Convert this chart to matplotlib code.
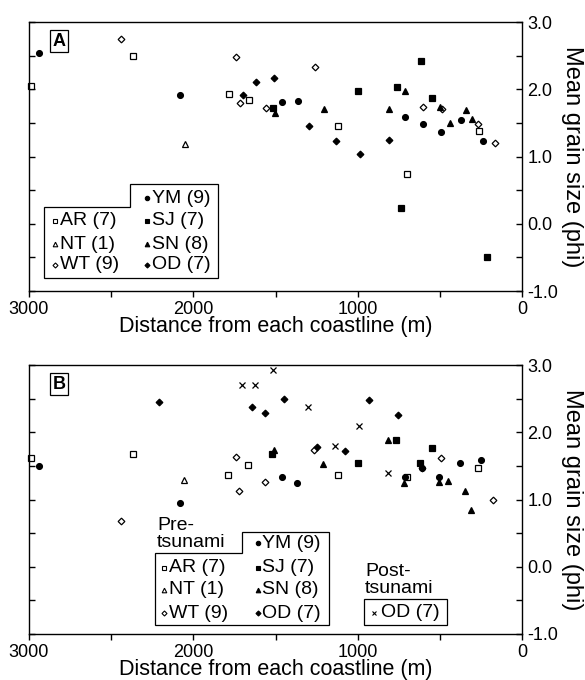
import matplotlib
matplotlib.use("Agg")
import matplotlib.pyplot as plt
from matplotlib.patches import Polygon, Rectangle

plt.rcParams['font.family'] = ['Liberation Sans', 'DejaVu Sans']

# ---------------- Panel A data ----------------
a_ym_x = [2938, 2082, 1461, 1365, 710, 604, 495, 369, 239]
a_ym_y = [2.54, 1.92, 1.81, 1.83, 1.58, 1.49, 1.36, 1.54, 1.23]
a_sj_x = [1516, 1000, 759, 738, 613, 546, 211]
a_sj_y = [1.72, 1.97, 2.04, 0.24, 2.42, 1.87, -0.49]
a_sn_x = [1505, 1203, 811, 710, 497, 440, 339, 304]
a_sn_y = [1.65, 1.70, 1.70, 1.98, 1.74, 1.50, 1.69, 1.56]
a_od_x = [1700, 1621, 1509, 1298, 1132, 984, 811]
a_od_y = [1.92, 2.11, 2.16, 1.45, 1.23, 1.04, 1.24]
a_ar_x = [2990, 2368, 1785, 1663, 1118, 698, 260]
a_ar_y = [2.05, 2.49, 1.93, 1.84, 1.45, 0.74, 1.38]
a_nt_x = [2053]
a_nt_y = [1.19]
a_wt_x = [2443, 1739, 1718, 1556, 1260, 603, 485, 268, 164]
a_wt_y = [2.74, 2.48, 1.79, 1.72, 2.33, 1.74, 1.71, 1.48, 1.20]

# ---------------- Panel B data ----------------
b_ym_x = [2938, 2082, 1463, 1370, 712, 609, 503, 377, 248]
b_ym_y = [1.50, 0.95, 1.34, 1.24, 1.33, 1.47, 1.34, 1.55, 1.58]
b_sj_x = [1520, 1000, 765, 619, 549]
b_sj_y = [1.68, 1.54, 1.88, 1.54, 1.76]
b_sn_x = [1508, 1209, 817, 716, 503, 452, 345, 312]
b_sn_y = [1.74, 1.53, 1.88, 1.25, 1.26, 1.28, 1.13, 0.84]
b_od_x = [2211, 1641, 1562, 1450, 1246, 1075, 929, 757]
b_od_y = [2.45, 2.38, 2.28, 2.49, 1.78, 1.72, 2.48, 2.25]
b_ar_x = [2990, 2368, 1788, 1666, 1122, 702, 268]
b_ar_y = [1.62, 1.67, 1.37, 1.52, 1.36, 1.34, 1.47]
b_nt_x = [2055]
b_nt_y = [1.29]
b_wt_x = [2443, 1741, 1721, 1561, 1264, 609, 491, 175]
b_wt_y = [0.68, 1.63, 1.13, 1.26, 1.74, 1.47, 1.61, 1.00]
b_post_x = [1702, 1625, 1514, 1305, 1138, 990, 817]
b_post_y = [2.71, 2.71, 2.93, 2.38, 1.80, 2.10, 1.40]

x_ticks = [3000, 2500, 2000, 1500, 1000, 500, 0]
x_labels = ['3000', '', '2000', '', '1000', '', '0']
y_ticks = [-1.0, -0.5, 0.0, 0.5, 1.0, 1.5, 2.0, 2.5, 3.0]
y_labels = ['-1.0', '', '0.0', '', '1.0', '', '2.0', '', '3.0']

W, H = 585, 680
fig = plt.figure(figsize=(W / 100, H / 100), dpi=100)


def fx(px):
    return px / W


def fy(py):
    return 1 - py / H


styles = {
    'YM': dict(marker='o', mfc='black', mec='black', ms=4.2),
    'SJ': dict(marker='s', mfc='black', mec='black', ms=3.8),
    'SN': dict(marker='^', mfc='black', mec='black', ms=4.4),
    'OD': dict(marker='D', mfc='black', mec='black', ms=3.4),
    'AR': dict(marker='s', mfc='white', mec='black', ms=3.8),
    'NT': dict(marker='^', mfc='white', mec='black', ms=4.4),
    'WT': dict(marker='D', mfc='white', mec='black', ms=3.4),
    'POST': dict(marker='x', color='black', ms=4.2),
}


def make_axes(top_px, series, label):
    left, right, bottom = 29, 522, top_px + 269
    ax = fig.add_axes([fx(left), fy(bottom), (right - left) / W, 269 / H])
    ax.set_xlim(3000, 0)
    ax.set_ylim(-1.0, 3.0)
    for key, (xs, ys) in series:
        st = dict(styles[key])
        ax.plot(xs, ys, linestyle='none', mew=0.9, clip_on=False, **st)
    ax.set_xticks(x_ticks)
    ax.set_xticklabels(x_labels, fontsize=13)
    ax.set_yticks(y_ticks)
    ax.yaxis.tick_right()
    ax.yaxis.set_label_position('right')
    ax.set_yticklabels(y_labels, fontsize=13)
    ax.tick_params(axis='x', direction='out', length=4, width=1, pad=3)
    ax.tick_params(axis='y', direction='in', length=4, width=1, left=True, right=True,
                   labelleft=False, labelright=True, pad=4)
    for s in ax.spines.values():
        s.set_linewidth(1.0)
    ax.set_xlabel('Distance from each coastline (m)', fontsize=15.5)
    ax.xaxis.set_label_coords(0.5, -0.093, transform=ax.transAxes)
    ax.xaxis.label.set_va('top')
    ax.set_ylabel('Mean grain size (phi)', fontsize=17, rotation=-90)
    ax.yaxis.set_label_coords((572 - 29) / 493, 0.5, transform=ax.transAxes)
    ax.yaxis.label.set_va('center')
    ax.text(0.048, 0.96, label, transform=ax.transAxes, fontsize=13, fontweight='bold',
            va='top', ha='left',
            bbox=dict(boxstyle='square,pad=0.15', fc='white', ec='black', lw=0.9))
    return ax


axA = make_axes(22, [('AR', (a_ar_x, a_ar_y)), ('NT', (a_nt_x, a_nt_y)), ('WT', (a_wt_x, a_wt_y)),
                     ('YM', (a_ym_x, a_ym_y)), ('SJ', (a_sj_x, a_sj_y)), ('SN', (a_sn_x, a_sn_y)),
                     ('OD', (a_od_x, a_od_y))], 'A')
axB = make_axes(365, [('AR', (b_ar_x, b_ar_y)), ('NT', (b_nt_x, b_nt_y)), ('WT', (b_wt_x, b_wt_y)),
                      ('YM', (b_ym_x, b_ym_y)), ('SJ', (b_sj_x, b_sj_y)), ('SN', (b_sn_x, b_sn_y)),
                      ('OD', (b_od_x, b_od_y)), ('POST', (b_post_x, b_post_y))], 'B')

left_names = ['AR (7)', 'NT (1)', 'WT (9)']
left_keys = ['AR', 'NT', 'WT']
right_names = ['YM (9)', 'SJ (7)', 'SN (8)', 'OD (7)']
right_keys = ['YM', 'SJ', 'SN', 'OD']
LFS = 14


def legend(x0, xstep, x1, ytop_right, ytop_left, ybot, rows_y, lmx, rmx):
    poly = Polygon([(fx(x0), fy(ytop_left)), (fx(xstep), fy(ytop_left)),
                    (fx(xstep), fy(ytop_right)), (fx(x1), fy(ytop_right)),
                    (fx(x1), fy(ybot)), (fx(x0), fy(ybot))], closed=True,
                   fc='white', ec='black', lw=0.9, transform=fig.transFigure, zorder=5)
    fig.patches.append(poly)
    for i, (k, n) in enumerate(zip(right_keys, right_names)):
        st = dict(styles[k])
        st['ms'] = st['ms'] * 0.75
        fig.add_artist(plt.Line2D([fx(rmx)], [fy(rows_y[i])], transform=fig.transFigure,
                                  linestyle='none', mew=0.8, zorder=6, **st))
        fig.text(fx(rmx + 4.5), fy(rows_y[i]), n, fontsize=LFS, va='center', ha='left', zorder=6)
    for i, (k, n) in enumerate(zip(left_keys, left_names)):
        st = dict(styles[k])
        st['ms'] = st['ms'] * 0.75
        fig.add_artist(plt.Line2D([fx(lmx)], [fy(rows_y[i + 1])], transform=fig.transFigure,
                                  linestyle='none', mew=0.8, zorder=6, **st))
        fig.text(fx(lmx + 5), fy(rows_y[i + 1]), n, fontsize=LFS, va='center', ha='left', zorder=6)


legend(44, 130, 218, 184, 207, 278, [198, 221, 244, 265], 55, 147)
legend(155, 242, 329, 532, 553, 625, [543, 568, 590, 613], 164, 258)

fig.text(fx(157), fy(551), 'Pre-\ntsunami', fontsize=LFS, va='bottom', ha='left', linespacing=1.0)
fig.text(fx(365), fy(597), 'Post-\ntsunami', fontsize=LFS, va='bottom', ha='left', linespacing=1.0)
fig.patches.append(Rectangle((fx(364), fy(625)), (447 - 364) / W, (625 - 599) / H,
                             fc='white', ec='black', lw=0.9, transform=fig.transFigure, zorder=5))
fig.add_artist(plt.Line2D([fx(374)], [fy(612.5)], transform=fig.transFigure, linestyle='none',
                          mew=0.8, zorder=6, marker='x', color='black', ms=3.5))
fig.text(fx(381), fy(612.5), 'OD (7)', fontsize=LFS, va='center', ha='left', zorder=6)

fig.savefig('out.png', dpi=100)
